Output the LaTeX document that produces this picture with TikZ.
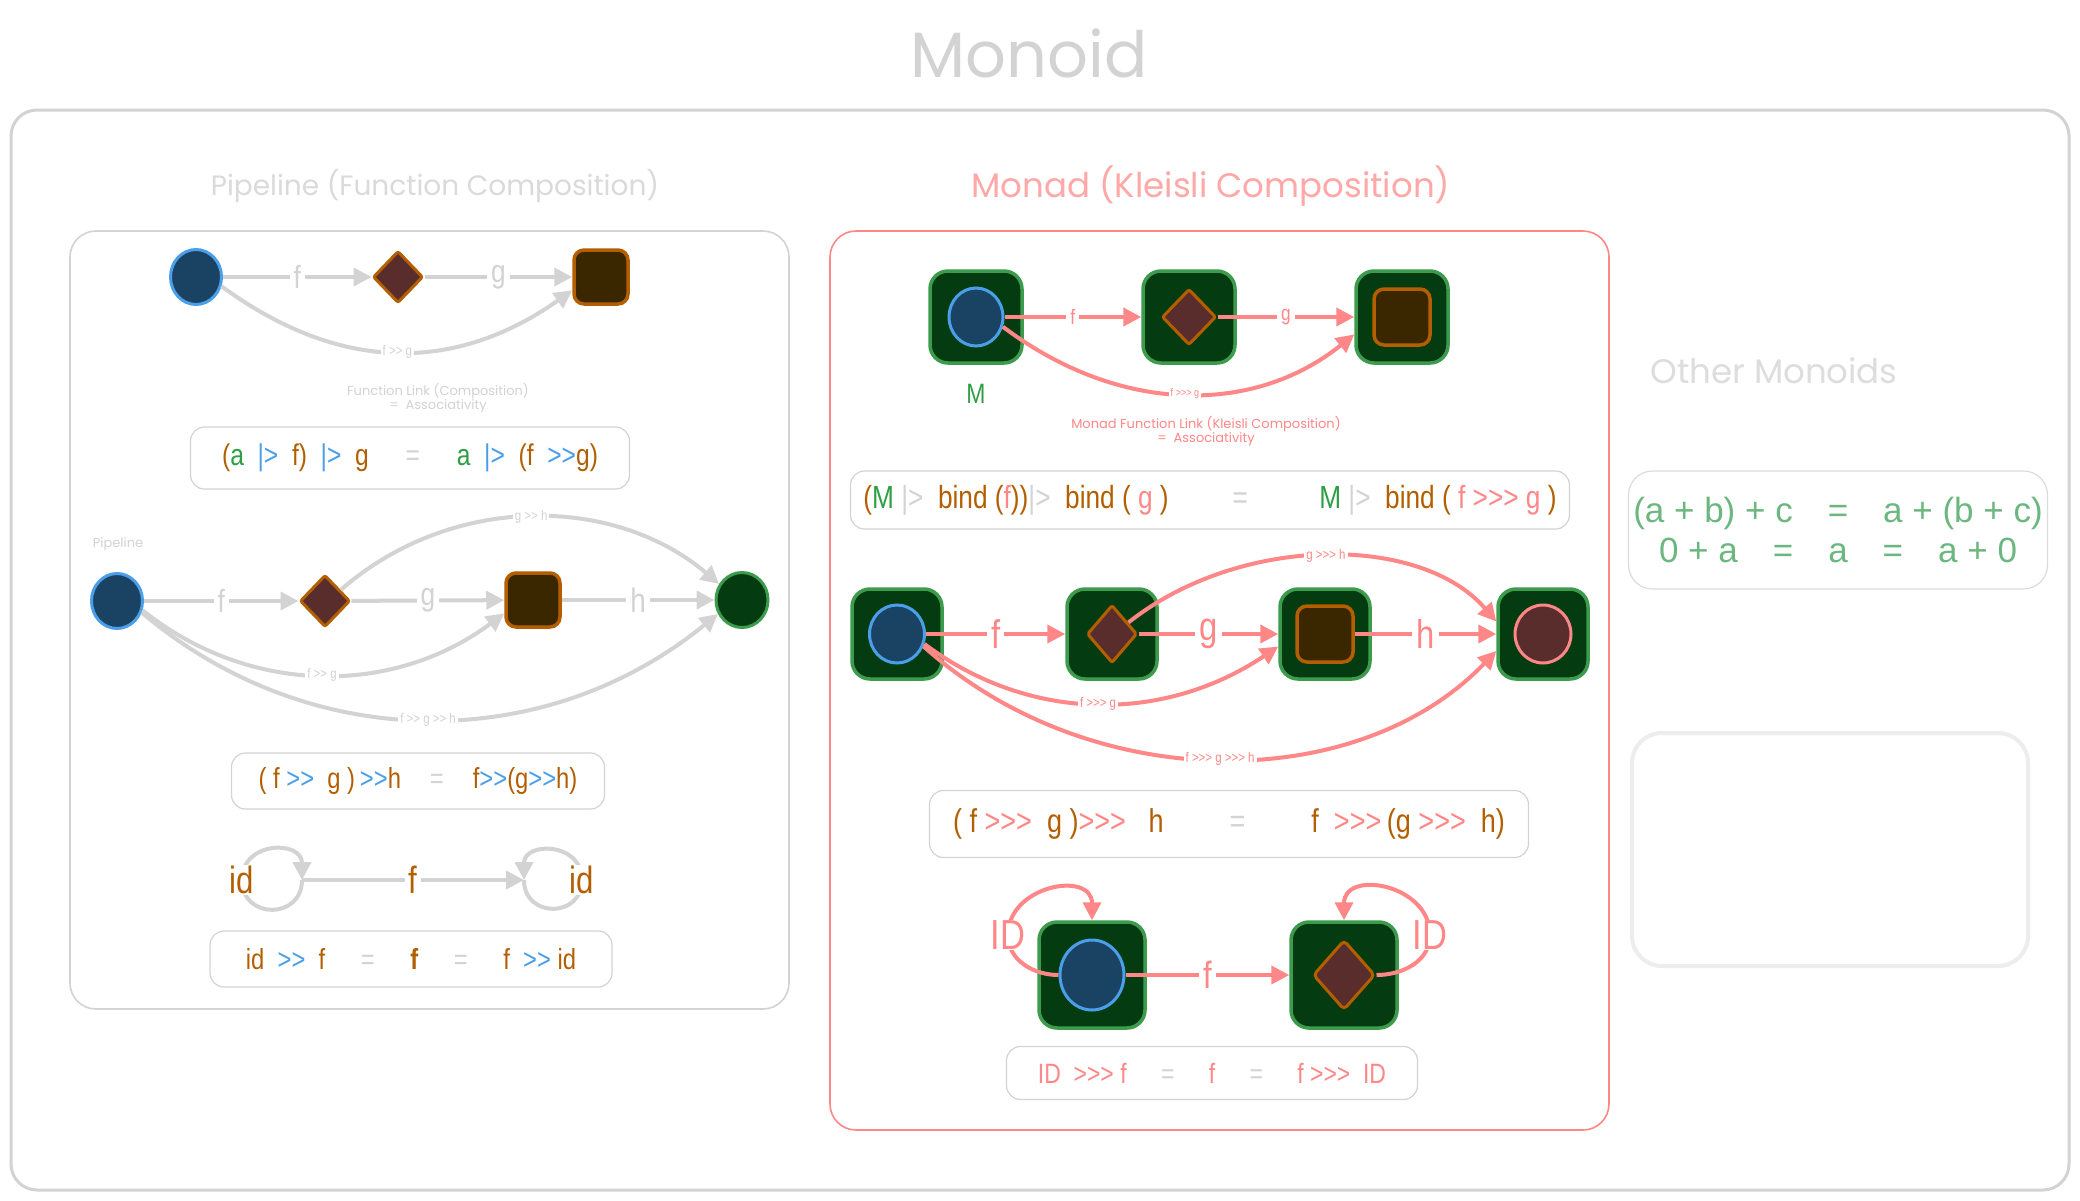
\documentclass[tikz,border=0pt]{standalone}
\usepackage{fontspec}
\newfontfamily\eqfont[FakeStretch=0.82]{Liberation Sans}
\newfontfamily\plainfont{Liberation Sans}
\newfontfamily\handfont{Poppins}
\usetikzlibrary{arrows.meta,shapes.geometric}

\definecolor{lgray}{HTML}{D3D3D3}
\definecolor{ttlgray}{HTML}{DADADA}
\definecolor{ghost}{HTML}{EDEDED}
\definecolor{salmon}{HTML}{FF8787}
\definecolor{ttlsalmon}{HTML}{FFA8A8}
\definecolor{brn}{HTML}{B35F00}
\definecolor{grn}{HTML}{2F9E44}
\definecolor{opblue}{HTML}{4A9FE8}
\definecolor{navy}{HTML}{1A4263}
\definecolor{wine}{HTML}{5A2D2D}
\definecolor{umber}{HTML}{3A2700}
\definecolor{forest}{HTML}{053B10}
\definecolor{boxgreen}{HTML}{3D9B4E}
\definecolor{softgreen}{HTML}{6CB77F}

\newcommand\fsz[1]{\fontsize{#1}{#1}\selectfont}
\newcommand\tbr[1]{\textcolor{brn}{#1}}
\newcommand\tgr[1]{\textcolor{grn}{#1}}
\newcommand\tbl[1]{\textcolor{opblue}{#1}}
\newcommand\tgy[1]{\textcolor{lgray}{#1}}
\newcommand\tsa[1]{\textcolor{salmon}{#1}}

\tikzset{
  panelbox/.style={draw=#1,line width=1.6pt,rounded corners=26pt},
  blob/.style={ellipse,draw=opblue,fill=navy,line width=3pt,inner sep=0pt,minimum width=51pt,minimum height=55pt},
  gem/.style={diamond,draw=brn,fill=wine,line width=3pt,inner sep=0pt,rounded corners=2pt,minimum width=50pt,minimum height=52pt},
  brick/.style={rectangle,draw=brn,fill=umber,line width=3.5pt,rounded corners=10pt,minimum width=54pt,minimum height=54pt},
  leaf/.style={ellipse,draw=boxgreen,fill=forest,line width=3pt,inner sep=0pt,minimum width=52pt,minimum height=55pt},
  ruby/.style={ellipse,draw=salmon,fill=wine,line width=3pt,inner sep=0pt,minimum width=56pt,minimum height=58pt},
  mbox/.style={rectangle,draw=boxgreen,fill=forest,line width=3.5pt,rounded corners=18pt,minimum size=92pt},
  eqbox/.style={draw=lgray,line width=1.2pt,rounded corners=14pt,inner sep=0pt,font=\eqfont\fsz{#1}},
  pipe/.style={draw=lgray,line width=4pt,-{Triangle[length=18pt,width=18pt]}},
  kl/.style={draw=salmon,line width=4pt,-{Triangle[length=18pt,width=18pt]}},
  onpipe/.style={fill=white,inner sep=4pt,text=lgray,font=\eqfont\fsz{#1}},
  onkl/.style={fill=white,inner sep=4pt,text=salmon,font=\eqfont\fsz{#1}},
  tiny/.style={fill=white,inner sep=2pt,font=\eqfont\fsz{14}},
  note/.style={align=center,font=\handfont\fsz{13}},
  heading/.style={font=\handfont\fsz{#1}},
}

\begin{document}
\begin{tikzpicture}[x=1pt,y=1pt]
\useasboundingbox[fill=white] (0,0) rectangle (2080,-1200);

\node[heading=64,text=lgray] (title) at (1029,-53) {Monoid};
\draw[panelbox=lgray,line width=3pt] (11,-110) rectangle (2069,-1190);
\draw[panelbox=lgray] (70,-231) rectangle (789,-1009);
\draw[panelbox=salmon] (830,-231) rectangle (1609,-1130);

% pipeline
\node[heading=28,text=ttlgray] (ptitle) at (435,-186) {Pipeline (Function Composition)};

\node[blob] (pa1) at (196,-277) {};
\node[gem] (pb1) at (398,-277) {};
\node[brick] (pc1) at (601,-277) {};
\draw[pipe] (pa1) -- node[onpipe=32]{f} (pb1);
\draw[pipe] (pb1) -- node[onpipe=32]{g} (pc1);
\draw[pipe] (pa1.-20) .. controls (340,-373) and (455,-373) .. node[tiny,text=lgray]{f >> g} (pc1.205);
\node[note,text=lgray] (pnote) at (438,-398) {Function Link (Composition)\\=\ \ Associativity};
\node[eqbox=30,minimum width=439pt,minimum height=62pt] (peq1) at (410,-458)
  {\tbr{(}\tgr{a}\ \ \tbl{|>}\ \ \tbr{f)}\ \ \tbl{|>}\ \ \tbr{g}\quad\ \tgy{=}\quad\ \tgr{a}\ \ \tbl{|>}\ \ \tbr{(f}\ \ \tbl{>>}\tbr{g)}};

\node[note,text=lgray] (plbl) at (118,-544) {Pipeline};
\node[blob] (pa2) at (117,-601) {};
\node[gem] (pb2) at (325,-601) {};
\node[brick] (pc2) at (533,-600) {};
\node[leaf] (pd2) at (742,-600) {};
\draw[pipe] (pa2) -- node[onpipe=32]{f} (pb2);
\draw[pipe] (pb2) -- node[onpipe=32]{g} (pc2);
\draw[pipe] (pc2) -- node[onpipe=34]{h} (pd2);
\draw[pipe] (pb2.35) .. controls (450,-494) and (613,-494) .. node[tiny,text=lgray]{g >> h} (pd2.145);
\draw[pipe] (pa2.-20) .. controls (250,-696) and (393,-696) .. node[tiny,text=lgray]{f >> g} (pc2.205);
\draw[pipe] (pa2.-25) .. controls (310,-755) and (545,-755) .. node[tiny,text=lgray]{f >> g >> h} (pd2.210);
\node[eqbox=29,minimum width=373pt,minimum height=56pt] (peq2) at (418,-781)
  {\tbr{( f}\ \tbl{>>}\ \ \tbr{g )}\,\tbl{>>}\tbr{h}\quad\tgy{=}\quad\tbr{f}\tbl{>>}\tbr{(g}\tbl{>>}\tbr{h)}};

\coordinate (pi1) at (302,-880);
\coordinate (pi2) at (524,-880);
\coordinate (pl1) at (242,-880);
\coordinate (pl2) at (582,-880);
\draw[pipe] (pi1) -- node[onpipe=38,text=brn]{f} (pi2);
\draw[pipe] (pi1) to[out=-90,in=-90,looseness=1.7] node[at end,onpipe=38,text=brn,inner sep=1pt]{id} (pl1) to[out=90,in=90,looseness=1.7] (pi1);
\draw[pipe] (pi2) to[out=-90,in=-90,looseness=1.7] node[at end,onpipe=38,text=brn,inner sep=1pt]{id} (pl2) to[out=90,in=90,looseness=1.7] (pi2);
\node[eqbox=29,minimum width=402pt,minimum height=56pt] (peq3) at (411,-959)
  {\tbr{id}\ \ \tbl{>>}\ \ \tbr{f}\quad\ \tgy{=}\quad\ \tbr{\bfseries f}\quad\ \tgy{=}\quad\ \tbr{f}\ \ \tbl{>>}\ \tbr{id}};

% monad
\node[heading=34,text=ttlsalmon] (ktitle) at (1211,-186) {Monad (Kleisli Composition)};

\foreach \n/\x in {1/976,2/1189,3/1402} \node[mbox] (kt\n) at (\x,-317) {};
\node[blob,minimum width=54pt,minimum height=58pt] (ka1) at (kt1) {};
\node[gem,minimum width=54pt,minimum height=56pt] (kb1) at (kt2) {};
\node[brick,minimum width=56pt,minimum height=56pt] (kc1) at (kt3) {};
\draw[kl] (ka1) -- node[onkl=21]{f} (kt2);
\draw[kl] (kb1) -- node[onkl=21]{g} (kt3);
\draw[kl] (ka1.-20) .. controls (1120,-415) and (1254,-415) .. node[tiny,text=salmon,font=\eqfont\fsz{11}]{f >>> g} (kt3.200);
\node[text=grn,font=\eqfont\fsz{28}] (mlbl) at (976,-394) {M};
\node[note,text=salmon] (knote) at (1206,-431) {Monad Function Link (Kleisli Composition)\\=\ \ Associativity};
\node[eqbox=32,minimum width=719pt,minimum height=58pt] (keq1) at (1210,-500)
  {\tbr{(}\tgr{M}\ \tgy{|>}\ \ \tbr{bind (}\tsa{f}\tbr{))}\tgy{|>}\ \ \tbr{bind (}\ \tsa{g}\ \tbr{)}\qquad\tgy{=}\qquad\ \tgr{M}\ \tgy{|>}\ \ \tbr{bind (}\ \tsa{f >>> g}\ \tbr{)}};

\foreach \n/\x in {1/897,2/1112,3/1325,4/1543} \node[mbox,minimum size=90pt] (kr\n) at (\x,-634) {};
\node[blob,minimum width=55pt,minimum height=58pt] (ka2) at (kr1) {};
\node[gem,minimum width=50pt,minimum height=58pt] (kb2) at (kr2) {};
\node[brick,minimum width=56pt,minimum height=56pt] (kc2) at (kr3) {};
\node[ruby] (kd2) at (kr4) {};
\draw[kl] (ka2) -- node[onkl=40]{f} (kr2);
\draw[kl] (kb2) -- node[onkl=40]{g} (kr3);
\draw[kl] (kc2) -- node[onkl=40]{h} (kr4);
\draw[kl] (kb2.35) .. controls (1240,-534) and (1421,-534) .. node[tiny,text=salmon]{g >>> h} (kr4.165);
\draw[kl] (ka2.-20) .. controls (1030,-723) and (1164,-723) .. node[tiny,text=salmon]{f >>> g} (kr3.195);
\draw[kl] (ka2.-25) .. controls (1090,-796) and (1357,-796) .. node[tiny,text=salmon]{f >>> g >>> h} (kr4.200);
\node[eqbox=33,minimum width=599pt,minimum height=67pt] (keq2) at (1229,-824)
  {\tbr{( f}\ \tsa{>>>}\ \ \tbr{g )}\tsa{>>>}\ \ \ \tbr{h}\qquad\tgy{=}\qquad\tbr{f}\ \ \tsa{>>>}\,\tbr{(g}\ \tsa{>>>}\ \ \tbr{h)}};

\foreach \n/\x in {1/1092,2/1344} \node[mbox,minimum size=106pt] (ku\n) at (\x,-975) {};
\node[blob,minimum width=64pt,minimum height=70pt] (ka3) at (ku1) {};
\node[gem,minimum width=62pt,minimum height=70pt,rounded corners=4pt] (kb3) at (ku2) {};
\coordinate (kl1) at (1008,-935);
\coordinate (kl2) at (1430,-935);
\draw[kl] (ka3) -- node[onkl=38]{f} (ku2);
\draw[kl] (ka3.west) to[out=180,in=-90] node[at end,onkl=42,inner sep=1pt]{ID} (kl1) to[out=90,in=90,looseness=1.5] (ku1.north);
\draw[kl] (kb3.east) to[out=0,in=-90] node[at end,onkl=42,inner sep=1pt]{ID} (kl2) to[out=90,in=90,looseness=1.5] (ku2.north);
\node[eqbox=28,minimum width=411pt,minimum height=53pt] (keq3) at (1212,-1073)
  {\tsa{ID}\ \ \tsa{>>>}\ \tsa{f}\quad\ \tgy{=}\quad\ \tsa{f}\quad\ \tgy{=}\quad\ \tsa{f}\ \tsa{>>>}\ \ \tsa{ID}};

% other monoids
\node[heading=34,text=ghost!85!gray] (otitle) at (1774,-371) {Other Monoids};
\node[draw=lgray!80,line width=1.2pt,rounded corners=24pt,minimum width=419pt,minimum height=118pt,
  align=center,inner sep=0pt,text=softgreen,font=\plainfont\fsz{35}] (oeq) at (1838,-530)
  {(a + b) + c\quad=\quad a + (b + c)\\[5pt]0 + a\quad=\quad a\quad=\quad a + 0};
\node[draw=ghost,line width=4pt,rounded corners=30pt,minimum width=396pt,minimum height=233pt] (oblank) at (1830,-849.5) {};
\end{tikzpicture}
\end{document}
